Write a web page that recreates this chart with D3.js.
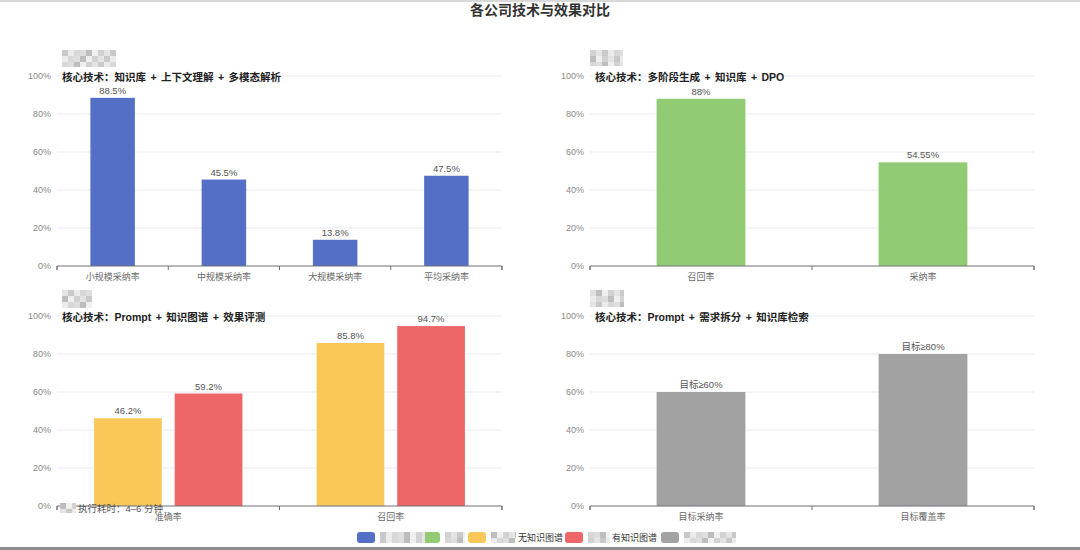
<!DOCTYPE html>
<html>
<head>
<meta charset="utf-8">
<script src="https://cdn.jsdelivr.net/npm/d3@7/dist/d3.min.js"></script>
<style>
  html, body { margin: 0; padding: 0; background: #fff; }
  svg { display: block; }
  text { font-family: Arial, "Liberation Sans", "Noto Sans CJK SC", sans-serif; }
</style>
</head>
<body>
<svg id="chart" width="1080" height="550"></svg>
<script>
// ---------------- data ----------------
const chartTitle = "各公司技术与效果对比";
const yTicks = [0, 20, 40, 60, 80, 100];

const catsA = ["小规模采纳率", "中规模采纳率", "大规模采纳率", "平均采纳率"];
const valsA = [88.5, 45.5, 13.8, 47.5];
const techA = "核心技术：知识库 + 上下文理解 + 多模态解析";

const catsB = ["召回率", "采纳率"];
const valsB = [88, 54.55];
const techB = "核心技术：多阶段生成 + 知识库 + DPO";

const catsC = ["准确率", "召回率"];
const valsCNoKG = [46.2, 85.8];
const valsCWithKG = [59.2, 94.7];
const techC = "核心技术：Prompt + 知识图谱 + 效果评测";
const noteC = "执行耗时：4–6 分钟";

const catsD = ["目标采纳率", "目标覆盖率"];
const valsD = [60, 80];
const labelsD = ["目标≥60%", "目标≥80%"];
const techD = "核心技术：Prompt + 需求拆分 + 知识库检索";

const legendLabels = ["", "", "无知识图谱", "有知识图谱", ""];
const colors = ["#5470c6", "#91cc75", "#fac858", "#ee6666", "#a2a2a2"];

// ---------------- drawing ----------------
const svg = d3.select("#chart");

svg.append("text")
  .attr("x", 540).attr("y", 15)
  .attr("text-anchor", "middle")
  .attr("font-size", 14).attr("font-weight", "bold")
  .attr("fill", "#333")
  .text(chartTitle);

const mosaicGrays = ["#c9c9c9", "#dedede", "#d2d2d2", "#ebebeb", "#bdbdbd", "#e4e4e4", "#d8d8d8", "#f0f0f0"];
function mosaic(x, y, w, h, seed) {
  const cell = 6;
  const g = svg.append("g");
  let k = seed;
  for (let yy = 0; yy < h; yy += cell) {
    for (let xx = 0; xx < w; xx += cell) {
      g.append("rect")
        .attr("x", x + xx).attr("y", y + yy)
        .attr("width", Math.min(cell, w - xx)).attr("height", Math.min(cell, h - yy))
        .attr("fill", mosaicGrays[k % mosaicGrays.length]);
      k += 3;
    }
  }
}

function panel(opt) {
  const { x0, x1, y0, y1, cats, series, tech, mask } = opt;
  const g = svg.append("g");
  const y = d3.scaleLinear().domain([0, 100]).range([y1, y0]);
  const x = d3.scaleBand().domain(cats).range([x0, x1]).paddingInner(0).paddingOuter(0);

  // grid lines
  g.selectAll("line.grid").data(yTicks.filter(t => t > 0)).join("line")
    .attr("x1", x0).attr("x2", x1)
    .attr("y1", d => y(d)).attr("y2", d => y(d))
    .attr("stroke", "#e6e9f0").attr("stroke-width", 1);

  // y axis labels
  const yAxis = d3.axisLeft(y).tickValues(yTicks).tickFormat(d => d + "%").tickSize(0).tickPadding(6);
  const ya = g.append("g").attr("transform", `translate(${x0},0)`).call(yAxis);
  ya.select(".domain").remove();
  ya.selectAll("text").attr("font-size", 9).attr("fill", "#8a8a8a")
    .style("font-family", 'Arial, "Liberation Sans", sans-serif');

  // bars
  const inner = d3.scaleBand().domain(series.map((s, i) => i))
    .range([0, x.bandwidth()])
    .paddingInner(opt.gap).paddingOuter(opt.outer);
  series.forEach((s, si) => {
    g.selectAll(null).data(s.values).join("rect")
      .attr("x", (d, i) => x(cats[i]) + inner(si))
      .attr("y", d => y(d))
      .attr("width", inner.bandwidth())
      .attr("height", d => y(0) - y(d))
      .attr("fill", s.color);
    g.selectAll(null).data(s.values).join("text")
      .attr("x", (d, i) => x(cats[i]) + inner(si) + inner.bandwidth() / 2)
      .attr("y", d => y(d) - 4)
      .attr("text-anchor", "middle")
      .attr("font-size", 9.5).attr("fill", "#555")
      .text((d, i) => s.labels ? s.labels[i] : d + "%");
  });

  // x axis
  const xa = g.append("g").attr("transform", `translate(0,${y1})`)
    .call(d3.axisBottom(x).tickSize(0).tickPadding(8));
  xa.select(".domain").attr("stroke", "#6e7079").attr("d", `M${x0},4V0H${x1}V4`);
  xa.selectAll("text").attr("font-size", 9).attr("fill", "#6a6a6a");
  // boundary ticks
  const bounds = cats.map(c => x(c)).concat([x1]);
  g.selectAll(null).data(bounds).join("line")
    .attr("x1", d => d).attr("x2", d => d)
    .attr("y1", y1).attr("y2", y1 + 4)
    .attr("stroke", "#6e7079");

  // masked company name and technology subtitle
  mosaic(mask[0], mask[1], mask[2], mask[3], mask[4]);
  g.append("text")
    .attr("x", x0 + 5).attr("y", y0 + 4.5)
    .attr("font-size", 10.5).attr("font-weight", "bold").attr("fill", "#222")
    .attr("word-spacing", 1.5)
    .text(tech);
  return { x, y };
}

panel({ x0: 57, x1: 502, y0: 76, y1: 266, cats: catsA, tech: techA,
  series: [{ values: valsA, color: colors[0] }], gap: 0, outer: 0.75,
  mask: [62, 50, 54, 17, 0] });

panel({ x0: 590, x1: 1034, y0: 76, y1: 266, cats: catsB, tech: techB,
  series: [{ values: valsB, color: colors[1] }], gap: 0, outer: 0.75,
  mask: [590, 50, 33, 16, 2] });

panel({ x0: 57, x1: 502, y0: 316, y1: 506, cats: catsC, tech: techC,
  series: [{ values: valsCNoKG, color: colors[2] }, { values: valsCWithKG, color: colors[3] }],
  gap: 0.16, outer: 0.46,
  mask: [62, 290, 30, 18, 5] });

panel({ x0: 590, x1: 1034, y0: 316, y1: 506, cats: catsD, tech: techD,
  series: [{ values: valsD, color: colors[4], labels: labelsD }], gap: 0, outer: 0.75,
  mask: [590, 290, 34, 17, 1] });

// note in lower-left panel
mosaic(60, 503, 16, 10, 4);
svg.append("text")
  .attr("x", 78).attr("y", 512)
  .attr("font-size", 9.5).attr("fill", "#555")
  .text(noteC);

// legend
const legendX = [357, 422, 468, 565, 661];
const maskW = [45, 20, 25, 22, 52];
const lg = svg.append("g");
legendLabels.forEach((lab, i) => {
  lg.append("rect")
    .attr("x", legendX[i]).attr("y", 532)
    .attr("width", 18).attr("height", 11).attr("rx", 3)
    .attr("fill", colors[i]);
  mosaic(legendX[i] + 23, 532, maskW[i], 11, i * 2);
  if (lab) {
    lg.append("text")
      .attr("x", legendX[i] + 23 + maskW[i] + 2).attr("y", 541)
      .attr("font-size", 9).attr("fill", "#333")
      .text(lab);
  }
});

// screenshot frame edges
svg.append("rect").attr("x", 0).attr("y", 0).attr("width", 1080).attr("height", 2).attr("fill", "#d9d9d9");
svg.append("rect").attr("x", 0).attr("y", 547).attr("width", 1080).attr("height", 3).attr("fill", "#8c8c8c");
</script>
</body>
</html>
